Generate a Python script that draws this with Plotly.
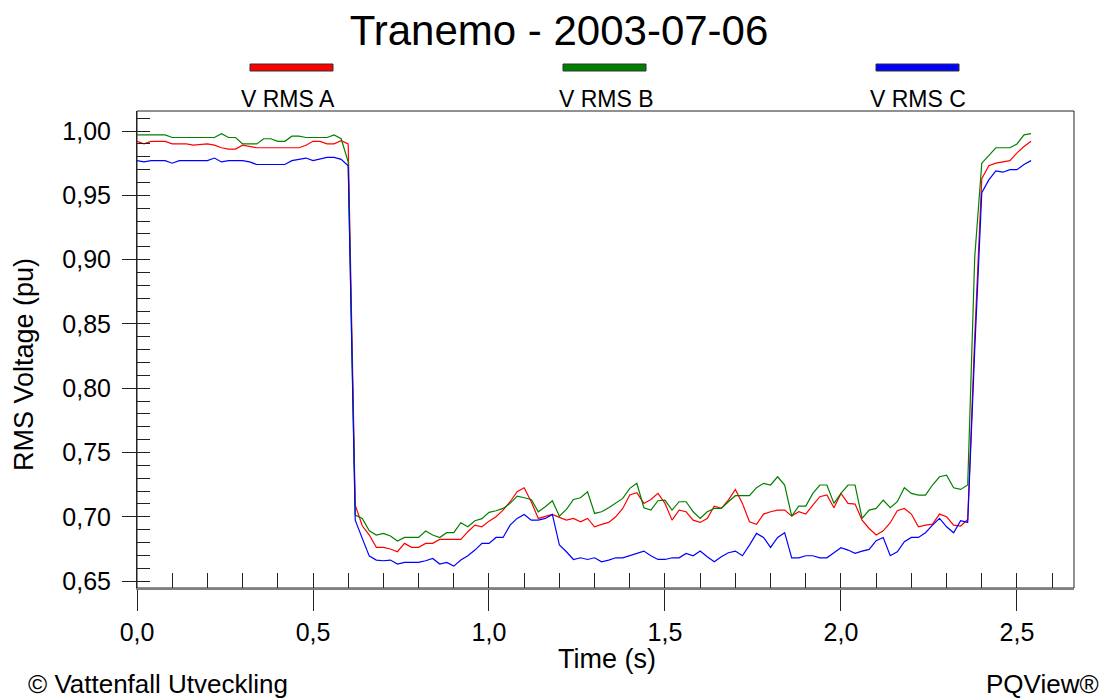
import numpy as np
import plotly.graph_objects as go

# ---------------- data ----------------
TITLE = "Tranemo - 2003-07-06"
SERIES_NAMES = ["V RMS A", "V RMS B", "V RMS C"]
SERIES_COLORS = ["#ff0000", "#008000", "#0000ff"]
SAMPLE_STEP = 0.02  # s (one cycle)
N_SAMPLES = 128
time_s = np.round(np.arange(N_SAMPLES) * SAMPLE_STEP, 2)

v_rms_a = [
    0.992, 0.990, 0.992, 0.992, 0.992, 0.990, 0.990, 0.990, 0.989, 0.9895,
    0.990, 0.989, 0.987, 0.986, 0.986, 0.989, 0.988, 0.987, 0.987, 0.987,
    0.987, 0.987, 0.987, 0.987, 0.989, 0.992, 0.992, 0.990, 0.990, 0.9925,
    0.990,
    0.709, 0.6930, 0.6858, 0.6762, 0.6762, 0.6749, 0.6728, 0.6793, 0.6762, 0.6762,
    0.6793, 0.6793, 0.6824, 0.6824, 0.6824, 0.6824, 0.6884, 0.6935, 0.6922, 0.6966,
    0.7000, 0.7052, 0.7117, 0.7195, 0.7226, 0.7117, 0.6987, 0.7005, 0.7018, 0.6995,
    0.6974, 0.6987, 0.6961,
    0.6987, 0.6922, 0.6941, 0.6956, 0.7000, 0.7065, 0.7169, 0.7187, 0.7104, 0.7135,
    0.7182, 0.7104, 0.6974, 0.7052, 0.7039, 0.6974, 0.6956, 0.6987, 0.7083, 0.7065,
    0.7130, 0.7213, 0.7104, 0.6961, 0.6941, 0.7021, 0.7039, 0.7052, 0.7052, 0.7005,
    0.7039, 0.7021, 0.7091, 0.7156,
    0.7169, 0.7070, 0.7182, 0.7104, 0.7099, 0.6974, 0.6909, 0.6858, 0.6891, 0.6954,
    0.7047, 0.7065, 0.7021, 0.6922, 0.6935, 0.6943, 0.7021, 0.7000, 0.6935, 0.6928,
    0.6979,
    0.840, 0.963, 0.973, 0.975, 0.976, 0.977, 0.983, 0.988, 0.992,
]

v_rms_b = [
    0.997, 0.997, 0.997, 0.997, 0.997, 0.995, 0.995, 0.995, 0.995, 0.995,
    0.995, 0.995, 0.998, 0.995, 0.995, 0.990, 0.990, 0.990, 0.994, 0.994,
    0.992, 0.992, 0.996, 0.996, 0.995, 0.995, 0.995, 0.995, 0.997, 0.994,
    0.976,
    0.7013, 0.6987, 0.6891, 0.6858, 0.6871, 0.6850, 0.6811, 0.6839, 0.6839, 0.6839,
    0.6889, 0.6858, 0.6839, 0.6876, 0.6876, 0.6954, 0.6922, 0.6969, 0.6985, 0.7034,
    0.7047, 0.7065, 0.7104, 0.7161, 0.7148, 0.7135, 0.7039, 0.7078, 0.7125, 0.7005,
    0.7057, 0.7135, 0.7148,
    0.7195, 0.7026, 0.7039, 0.7070, 0.7104, 0.7143, 0.7221, 0.7260, 0.7070, 0.7052,
    0.7125, 0.7130, 0.7052, 0.7117, 0.7117, 0.7039, 0.6987, 0.7039, 0.7065, 0.7065,
    0.7117, 0.7164, 0.7164, 0.7164, 0.7226, 0.7260, 0.7247, 0.7311, 0.7247, 0.7005,
    0.7083, 0.7083, 0.7182, 0.7247,
    0.7247, 0.7104, 0.7182, 0.7247, 0.7247, 0.6987, 0.7052, 0.7065, 0.7130, 0.7070,
    0.7117, 0.7226, 0.7182, 0.7169, 0.7169, 0.7247, 0.7311, 0.7324, 0.7226, 0.7213,
    0.7247,
    0.902, 0.975, 0.981, 0.987, 0.987, 0.987, 0.990, 0.997, 0.998,
]

v_rms_c = [
    0.977, 0.976, 0.977, 0.977, 0.977, 0.975, 0.977, 0.977, 0.977, 0.977,
    0.977, 0.979, 0.976, 0.977, 0.977, 0.977, 0.976, 0.974, 0.974, 0.974,
    0.974, 0.974, 0.977, 0.978, 0.979, 0.977, 0.978, 0.9795, 0.9795, 0.978,
    0.973,
    0.6974, 0.6832, 0.6694, 0.6663, 0.6658, 0.6663, 0.6632, 0.6645, 0.6645, 0.6645,
    0.6658, 0.6676, 0.6632, 0.6645, 0.6616, 0.6663, 0.6697, 0.6741, 0.6793, 0.6793,
    0.6839, 0.6839, 0.6935, 0.6987, 0.7018, 0.6974, 0.6974, 0.6987, 0.7018, 0.6780,
    0.6728, 0.6668, 0.6681,
    0.6668, 0.6681, 0.6650, 0.6663, 0.6681, 0.6681, 0.6697, 0.6715, 0.6733, 0.6697,
    0.6668, 0.6668, 0.6681, 0.6681, 0.6715, 0.6697, 0.6733, 0.6689, 0.6650, 0.6689,
    0.6720, 0.6733, 0.6697, 0.6780, 0.6871, 0.6839, 0.6762, 0.6839, 0.6876, 0.6681,
    0.6681, 0.6697, 0.6697, 0.6681,
    0.6681, 0.6720, 0.6759, 0.6741, 0.6715, 0.6733, 0.6746, 0.6814, 0.6839, 0.6697,
    0.6728, 0.6806, 0.6839, 0.6839, 0.6876, 0.6935, 0.6987, 0.6922, 0.6876, 0.6969,
    0.6956,
    0.830, 0.952, 0.962, 0.969, 0.968, 0.970, 0.970, 0.974, 0.977,
]

X_RANGE = [0.0, 2.662]
Y_RANGE = [0.6446, 1.0156]

# ---------------- layout geometry (pixels) ----------------
W, H = 1107, 700
ML, MR, MT, MB = 137, 33, 111, 112
PW, PH = W - ML - MR, H - MT - MB


def px(xp):
    return (xp - ML) / PW


def py(yp):
    return (H - MB - yp) / PH


FONT = "Liberation Sans, Arial, sans-serif"

fig = go.Figure()
for name, color, vals in zip(SERIES_NAMES, SERIES_COLORS, [v_rms_a, v_rms_b, v_rms_c]):
    fig.add_trace(go.Scatter(x=time_s, y=vals, mode="lines", name=name,
                             line=dict(color=color, width=1.2), showlegend=False))

# empty helper trace so that the overlaid minor-tick axes are rendered
fig.add_trace(go.Scatter(x=[None], y=[None], xaxis="x2", yaxis="y2", mode="lines",
                         showlegend=False, hoverinfo="skip"))

shapes = [dict(type="rect", xref="paper", yref="paper", x0=0, x1=1, y0=0, y1=1,
               line=dict(color="#222222", width=1), layer="below")]
annotations = []
legend_centers = [291, 604, 917]
label_centers = [288, 606, 918]
for name, color, cx, lx in zip(SERIES_NAMES, SERIES_COLORS, legend_centers, label_centers):
    shapes.append(dict(type="rect", xref="paper", yref="paper",
                       x0=px(cx - 41), x1=px(cx + 42), y0=py(71), y1=py(64),
                       fillcolor=color, line=dict(color="#333333", width=1)))
    annotations.append(dict(text=name, xref="paper", yref="paper", x=px(lx), y=py(99),
                            xanchor="center", yanchor="middle", showarrow=False,
                            font=dict(family=FONT, size=23, color="black")))

annotations += [
    dict(text="RMS Voltage (pu)", xref="paper", yref="paper", x=px(24), y=py(365),
         textangle=-90, xanchor="center", yanchor="middle", showarrow=False,
         font=dict(family=FONT, size=27, color="black")),
    dict(text="Time (s)", xref="paper", yref="paper", x=px(607), y=py(659),
         xanchor="center", yanchor="middle", showarrow=False,
         font=dict(family=FONT, size=27, color="black")),
    dict(text="© Vattenfall Utveckling", xref="paper", yref="paper", x=px(26), y=py(684),
         xanchor="left", yanchor="middle", showarrow=False,
         font=dict(family=FONT, size=26, color="black")),
    dict(text="PQView®", xref="paper", yref="paper", x=px(1101), y=py(684),
         xanchor="right", yanchor="middle", showarrow=False,
         font=dict(family=FONT, size=26, color="black")),
]

common_x = dict(range=X_RANGE, showgrid=False, zeroline=False, fixedrange=True)
common_y = dict(range=Y_RANGE, showgrid=False, zeroline=False, fixedrange=True)

fig.update_layout(
    width=W, height=H,
    margin=dict(l=ML, r=MR, t=MT, b=MB, pad=0),
    paper_bgcolor="white", plot_bgcolor="white",
    separators=",.",
    title=dict(text=TITLE, x=559 / W, xanchor="center", xref="container",
               y=1 - 30 / H, yanchor="middle", yref="container",
               font=dict(family=FONT, size=42, color="black")),
    xaxis=dict(**common_x, tick0=0, dtick=0.5, ticks="outside", ticklen=21,
               tickwidth=1, tickcolor="#222222", tickformat=".1f",
               showline=True, linecolor="#808080", linewidth=2,
               tickfont=dict(family=FONT, size=25, color="black")),
    xaxis2=dict(**common_x, overlaying="x", anchor="y", side="bottom",
                tick0=0, dtick=0.1, ticks="inside", ticklen=15, tickwidth=1,
                tickcolor="#222222", showticklabels=False, showline=False),
    yaxis=dict(**common_y, tick0=0, dtick=0.05, ticks="outside", ticklen=14,
               tickwidth=1, tickcolor="#222222", tickformat=".2f",
               ticklabelstandoff=6,
               showline=True, linecolor="#222222", linewidth=1,
               tickfont=dict(family=FONT, size=25, color="black")),
    yaxis2=dict(**common_y, overlaying="y", anchor="x", side="left",
                tick0=0, dtick=0.01, ticks="inside", ticklen=13, tickwidth=1,
                tickcolor="#222222", showticklabels=False, showline=False),
    shapes=shapes,
    annotations=annotations,
)

fig.write_html("out.html")
